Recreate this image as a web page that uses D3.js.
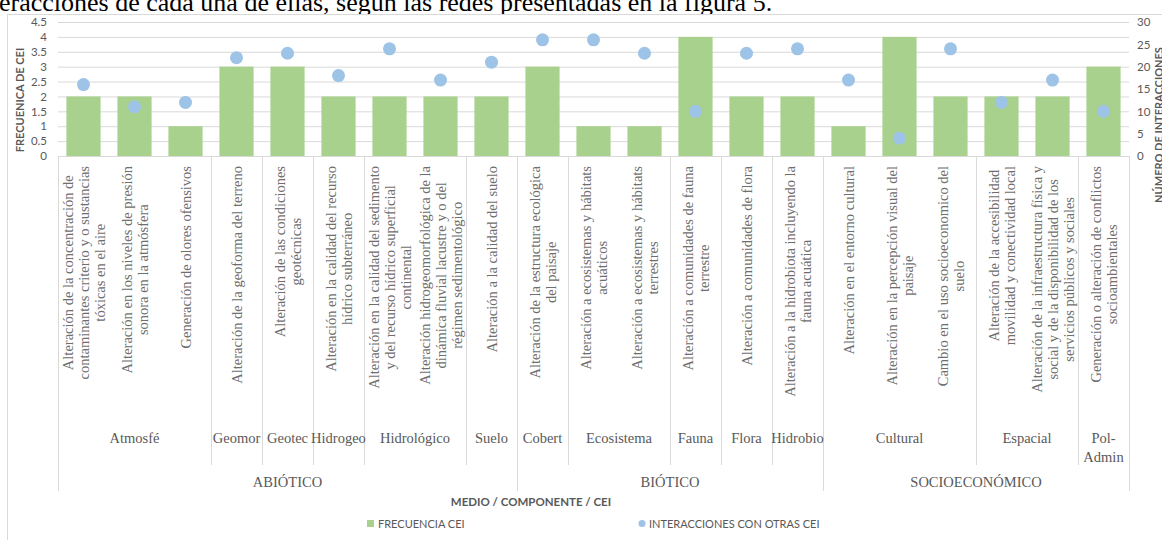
<!DOCTYPE html>
<html>
<head>
<meta charset="utf-8">
<script src="https://cdn.jsdelivr.net/npm/d3@7"></script>
<style>
  body { margin: 0; background: #fff; }
  svg { display: block; }
</style>
</head>
<body>
<svg id="chart" width="1162" height="540"></svg>
<script>
// category labels, one array of text lines per CEI
const categories = [
  ['Alteración de la concentración de', 'contaminantes criterio y o sustancias', 'tóxicas en el aire'],
  ['Alteración en los niveles de presión', 'sonora en la atmósfera'],
  ['Generación de olores ofensivos'],
  ['Alteración de la geoforma del terreno'],
  ['Alteración de las condiciones', 'geotécnicas'],
  ['Alteración en la calidad del recurso', 'hídrico subterráneo'],
  ['Alteración en la calidad del sedimento', 'y del recurso hídrico superficial', 'continental'],
  ['Alteración hidrogeomorfológica de la', 'dinámica fluvial lacustre y o del', 'régimen sedimentológico'],
  ['Alteración a la calidad del suelo'],
  ['Alteración de la estructura ecológica', 'del paisaje'],
  ['Alteración a ecosistemas y hábitats', 'acuáticos'],
  ['Alteración a ecosistemas y hábitats', 'terrestres'],
  ['Alteración a comunidades de fauna', 'terrestre'],
  ['Alteración a comunidades de flora'],
  ['Alteración a la hidrobiota incluyendo la', 'fauna acuática'],
  ['Alteración en el entorno cultural'],
  ['Alteración en la percepción visual del', 'paisaje'],
  ['Cambio en el uso socioeconomico del', 'suelo'],
  ['Alteración de la accesibilidad', 'movilidad y conectividad local'],
  ['Alteración de la infraestructura física y', 'social y de la disponibilidad de los', 'servicios públicos y sociales'],
  ['Generación o alteración de conflictos', 'socioambientales']
]

const componentes = [
  'Atmosfé', 'Atmosfé', 'Atmosfé', 'Geomor', 'Geotec', 'Hidrogeo', 'Hidrológico',
  'Hidrológico', 'Suelo', 'Cobert', 'Ecosistema', 'Ecosistema', 'Fauna', 'Flora',
  'Hidrobio', 'Cultural', 'Cultural', 'Cultural', 'Espacial', 'Espacial', 'Pol-Admin'
]

const medios = [
  'ABIÓTICO', 'ABIÓTICO', 'ABIÓTICO', 'ABIÓTICO', 'ABIÓTICO', 'ABIÓTICO', 'ABIÓTICO',
  'ABIÓTICO', 'ABIÓTICO', 'BIÓTICO', 'BIÓTICO', 'BIÓTICO', 'BIÓTICO', 'BIÓTICO',
  'BIÓTICO', 'SOCIOECONÓMICO', 'SOCIOECONÓMICO', 'SOCIOECONÓMICO', 'SOCIOECONÓMICO',
  'SOCIOECONÓMICO', 'SOCIOECONÓMICO'
]

const frecuencia = [2, 2, 1, 3, 3, 2, 2, 2, 2, 3, 1, 1, 4, 2, 2, 1, 4, 2, 2, 2, 3]
const interacciones = [16, 11, 12, 22, 23, 18, 24, 17, 21, 26, 26, 23, 10, 23, 24, 17, 4, 24, 12, 17, 10]

const leftTicks = [0, 0.5, 1, 1.5, 2, 2.5, 3, 3.5, 4, 4.5]
const rightTicks = [0, 5, 10, 15, 20, 25, 30]

const green = '#a9d18e'
const blue = '#9dc3e6'
const grid = '#d9d9d9'
const textCol = '#595959'
const sans = 'Lato, "Open Sans", sans-serif'
const serif = '"Liberation Serif", "Times New Roman", serif'

const svg = d3.select('#chart')

// caption fragment above the chart (the page crop cuts its top)
svg.append('text')
  .attr('x', -1).attr('y', 11)
  .attr('font-family', serif).attr('font-size', 26)
  .attr('fill', '#000')
  .text('eracciones de cada una de ellas, según las redes presentadas en la figura 5.')

// chart frame
svg.append('rect')
  .attr('x', 7.5).attr('y', 14.5)
  .attr('width', 1200).attr('height', 600)
  .attr('fill', '#fff').attr('stroke', grid)

const plot = { left: 58, right: 1129, top: 22, bottom: 156 }

const xCat = d3.scaleBand()
  .domain(d3.range(categories.length))
  .range([plot.left, plot.right])

const xBar = d3.scaleBand()
  .domain(d3.range(categories.length))
  .range([plot.left, plot.right])
  .paddingInner(0.33)
  .paddingOuter(0.165)

const yL = d3.scaleLinear().domain([0, 4.5]).range([plot.bottom, plot.top])
const yR = d3.scaleLinear().domain([0, 30]).range([plot.bottom, plot.top])

// gridlines
svg.append('g')
  .attr('transform', 'translate(' + plot.left + ',0)')
  .call(d3.axisLeft(yL).tickValues(leftTicks).tickSize(-(plot.right - plot.left)).tickFormat(''))
  .call(g => g.select('.domain').remove())
  .call(g => g.selectAll('line').attr('stroke', grid))

// left axis labels
svg.append('g')
  .attr('transform', 'translate(' + (plot.left - 11) + ',0)')
  .call(d3.axisLeft(yL).tickValues(leftTicks).tickSize(0).tickPadding(0).tickFormat(d3.format('')))
  .call(g => g.select('.domain').remove())
  .call(g => g.selectAll('text')
    .attr('font-family', sans).attr('font-size', 11.5).attr('fill', textCol))

// right axis labels
svg.append('g')
  .attr('transform', 'translate(' + (plot.right + 8) + ',0)')
  .call(d3.axisRight(yR).tickValues(rightTicks).tickSize(0).tickPadding(0))
  .call(g => g.select('.domain').remove())
  .call(g => g.selectAll('text')
    .attr('font-family', sans).attr('font-size', 11.5).attr('fill', textCol))

// bars
svg.append('g').selectAll('rect')
  .data(frecuencia)
  .join('rect')
  .attr('x', (d, i) => xBar(i))
  .attr('y', d => yL(d))
  .attr('width', xBar.bandwidth())
  .attr('height', d => yL(0) - yL(d))
  .attr('fill', green)

// interaction dots
svg.append('g').selectAll('circle')
  .data(interacciones)
  .join('circle')
  .attr('cx', (d, i) => xCat(i) + xCat.bandwidth() / 2)
  .attr('cy', d => yR(d))
  .attr('r', 6.5)
  .attr('fill', blue)

// category axis line
svg.append('line')
  .attr('x1', plot.left).attr('x2', plot.right)
  .attr('y1', plot.bottom + 0.5).attr('y2', plot.bottom + 0.5)
  .attr('stroke', grid)

// consecutive runs of the same name
function runs (arr) {
  const out = []
  arr.forEach((name, i) => {
    const last = out[out.length - 1]
    if (last && last.name === name) last.end = i
    else out.push({ name: name, start: i, end: i })
  })
  return out
}

const compRuns = runs(componentes)
const medioRuns = runs(medios)
const edge = i => xCat(i)
const edgeEnd = i => xCat(i) + xCat.bandwidth()

// dividers between componentes
svg.append('g').selectAll('line')
  .data(compRuns.slice(1))
  .join('line')
  .attr('x1', d => Math.round(edge(d.start)) + 0.5)
  .attr('x2', d => Math.round(edge(d.start)) + 0.5)
  .attr('y1', plot.bottom).attr('y2', 465)
  .attr('stroke', grid)

// dividers between medios, plus both ends
const medioEdges = [plot.left].concat(medioRuns.map(r => edgeEnd(r.end)))
svg.append('g').selectAll('line')
  .data(medioEdges)
  .join('line')
  .attr('x1', d => Math.round(d) + 0.5)
  .attr('x2', d => Math.round(d) + 0.5)
  .attr('y1', plot.bottom).attr('y2', 491)
  .attr('stroke', grid)

// rotated category labels, top-aligned, lines centred on the longest one
const lineH = 16
const labelTop = 166
svg.append('g').selectAll('g')
  .data(categories)
  .join('g')
  .attr('transform', (d, i) => 'translate(' + (xCat(i) + xCat.bandwidth() / 2) + ',' + labelTop + ') rotate(-90)')
  .each(function (lines) {
    const t = d3.select(this).selectAll('text')
      .data(lines)
      .join('text')
      .attr('text-anchor', 'middle')
      .attr('y', (d, j) => (j - (lines.length - 1) / 2) * lineH + 5)
      .attr('font-family', serif)
      .attr('font-size', 14.5)
      .attr('fill', '#6e6e6e')
      .text(d => d)
    const maxLen = d3.max(t.nodes(), n => n.getComputedTextLength())
    t.attr('x', -maxLen / 2)
  })

// componente labels
svg.append('g').selectAll('text')
  .data(compRuns)
  .join('text')
  .attr('x', d => (edge(d.start) + edgeEnd(d.end)) / 2)
  .attr('y', 443)
  .attr('text-anchor', 'middle')
  .attr('font-family', serif)
  .attr('font-size', 14.5)
  .attr('fill', textCol)
  .each(function (d) {
    const el = d3.select(this)
    el.text(d.name)
    const room = edgeEnd(d.end) - edge(d.start) - 4
    if (this.getComputedTextLength() > room && d.name.includes('-')) {
      const parts = d.name.split('-')
      el.text(null)
      el.append('tspan').attr('x', el.attr('x')).text(parts[0] + '-')
      el.append('tspan').attr('x', el.attr('x')).attr('dy', 19).text(parts[1])
    }
  })

// medio labels
svg.append('g').selectAll('text')
  .data(medioRuns)
  .join('text')
  .attr('x', d => (edge(d.start) + edgeEnd(d.end)) / 2)
  .attr('y', 487)
  .attr('text-anchor', 'middle')
  .attr('font-family', serif)
  .attr('font-size', 14.5)
  .attr('fill', textCol)
  .text(d => d.name)

// axis titles
svg.append('text')
  .attr('transform', 'translate(24,100) rotate(-90)')
  .attr('text-anchor', 'middle')
  .attr('font-family', sans).attr('font-weight', 'bold')
  .attr('font-size', 11).attr('fill', textCol)
  .text('FRECUENICA DE CEI')

svg.append('text')
  .attr('transform', 'translate(1163,125) rotate(-90)')
  .attr('text-anchor', 'middle')
  .attr('font-family', sans).attr('font-weight', 'bold')
  .attr('font-size', 11).attr('fill', textCol)
  .text('NÚMERO DE INTERACCIONES')

svg.append('text')
  .attr('x', 531).attr('y', 506)
  .attr('text-anchor', 'middle')
  .attr('font-family', sans).attr('font-weight', 'bold')
  .attr('font-size', 11.5).attr('fill', textCol)
  .text('MEDIO / COMPONENTE / CEI')

// legend
const legend = svg.append('g').attr('font-family', sans).attr('font-size', 11).attr('fill', textCol)
legend.append('rect').attr('x', 367).attr('y', 520).attr('width', 7).attr('height', 7).attr('fill', green)
legend.append('text').attr('x', 378).attr('y', 528).text('FRECUENCIA CEI')
legend.append('circle').attr('cx', 642).attr('cy', 523.5).attr('r', 3.5).attr('fill', blue)
legend.append('text').attr('x', 649).attr('y', 528).text('INTERACCIONES CON OTRAS CEI')
</script>
</body>
</html>
